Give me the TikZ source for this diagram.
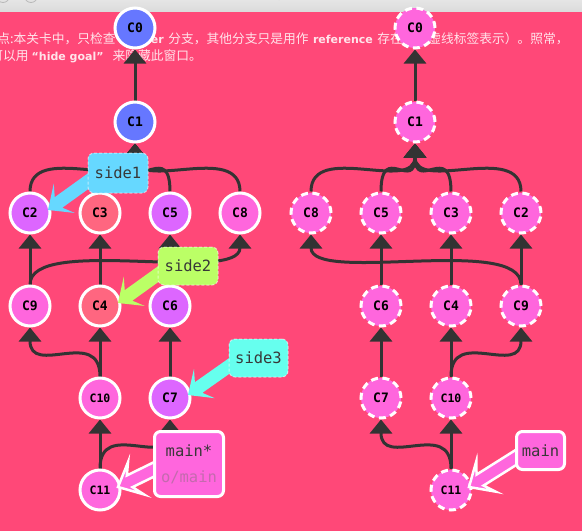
\documentclass[tikz,border=0pt]{standalone}
\usepackage{fontspec}
\usetikzlibrary{arrows.meta,calc}

\newfontfamily\cjkfont{Noto Sans CJK SC}
\newfontfamily\hdrlatin{DejaVu Sans}
\newfontfamily\codefont{DejaVu Sans Mono}

\definecolor{bgpink}{HTML}{FF4878}
\definecolor{linkgray}{HTML}{333333}
\definecolor{cblue}{HTML}{6677FF}
\definecolor{cviolet}{HTML}{DD66FF}
\definecolor{crose}{HTML}{FF6680}
\definecolor{cpink}{HTML}{FF66DD}
\definecolor{tagsky}{HTML}{66D8FF}
\definecolor{taglime}{HTML}{BBFF66}
\definecolor{tagaqua}{HTML}{66FFEE}
\definecolor{mutedtag}{HTML}{C46AAE}
\definecolor{hdrtext}{HTML}{FFE3EA}

\pgfdeclarelayer{backdrop}
\pgfdeclarelayer{links}
\pgfdeclarelayer{pointers}
\pgfdeclarelayer{tags}
\pgfsetlayers{backdrop,links,main,pointers,tags}

% bold Latin words inside the Chinese note
\newcommand\hl[1]{{\hdrlatin\bfseries\fontsize{11}{13}\selectfont #1}}

% parent link: child top -> parent bottom, smooth S-curve
\newcommand\commitlink[2]{\draw[link] (#1.north) .. controls +(0,-50) and +(0,50) .. (#2.south);}

% fat arrow from a branch tag to its commit
\newcommand\tagpointer[3]{%
  \coordinate (#2-tip) at ($(#1.center)+(18,-3)$);
  \coordinate (#2-root) at ($(#2.west)+(12,0)$);
  \coordinate (#2-head) at ($(#2-tip)!20pt!(#2-root)$);
  \coordinate (#2-neck) at ($(#2-tip)!13pt!(#2-root)$);
  \path[#3] (#2-tip)
    -- ($(#2-head)!18pt!90:(#2-root)$)
    -- ($(#2-neck)!6.5pt!90:(#2-root)$)
    -- ($(#2-root)!6.5pt!-90:(#2-tip)$)
    -- ($(#2-root)!6.5pt!90:(#2-tip)$)
    -- ($(#2-neck)!6.5pt!-90:(#2-root)$)
    -- ($(#2-head)!18pt!-90:(#2-root)$)
    -- cycle;}

\begin{document}
\begin{tikzpicture}[x=1pt,y=-1pt,
  commit/.style={circle, minimum size=40pt, inner sep=0pt, line width=3pt,
    draw=white, text=black, font=\codefont\bfseries\fontsize{13}{13}\selectfont},
  small/.style={font=\codefont\bfseries\fontsize{11.5}{11.5}\selectfont},
  goal/.style={commit, fill=cpink, dash pattern=on 7pt off 4.5pt},
  link/.style={draw=linkgray, line width=3pt, -{Triangle[width=22pt,length=14pt]}},
  tagbox/.style={rounded corners=6pt, inner sep=0pt, text=black!78,
    font=\codefont\fontsize{15.5}{18}\selectfont},
  sidetag/.style={tagbox, draw=white, draw opacity=0.55, line width=1pt,
    dash pattern=on 3pt off 2pt},
  maintag/.style={tagbox, draw=white, line width=3pt, fill=cpink},
  sidepointer/.style={fill=#1},
  mainpointer/.style={fill=cpink, draw=white, line width=2.5pt, line join=miter},
  note/.style={anchor=base west, inner sep=0pt, text=hdrtext,
    font=\cjkfont\fontsize{12.75}{15}\selectfont}]

\useasboundingbox (0,0) rectangle (582,531);

% ---- window backdrop, title bar and note ----
\begin{pgfonlayer}{backdrop}
  \fill[bgpink] (0,0) rectangle (582,531);
  \shade[top color=gray!12, bottom color=gray!28] (0,-12) rectangle (582,11);
  \draw[gray!55, fill=gray!22, line width=0.8pt] (3,-4) circle[radius=6.5pt];
  \draw[gray!55, fill=gray!22, line width=0.8pt] (31,-4) circle[radius=6.5pt];
  \node[font=\cjkfont\fontsize{13}{13}\selectfont, text=black!70] (title) at (276,-5) {目标};
  \node[note] (note1) at (-2.75,43)
    {点:本关卡中，只检查\hspace{4.5pt}\hl{master}\hspace{4.5pt}分支，其他分支只是用作\hspace{4.5pt}\hl{reference}\hspace{4.5pt}存在（以虚线标签表示）。照常，};
  \node[note] (note2) at (-9.75,60)
    {可以用\hspace{3pt}\hl{“hide goal”}\hspace{9pt}来隐藏此窗口。};
\end{pgfonlayer}

% ---- current tree ----
\node[commit, fill=cblue]   (L0)  at (135,28)  {C0};
\node[commit, fill=cblue]   (L1)  at (135,122) {C1};
\node[commit, fill=cviolet] (L2)  at (30,213)  {C2};
\node[commit, fill=crose]   (L3)  at (100,213) {C3};
\node[commit, fill=cviolet] (L5)  at (170,213) {C5};
\node[commit, fill=cpink]   (L8)  at (240,213) {C8};
\node[commit, fill=cpink]   (L9)  at (30,306)  {C9};
\node[commit, fill=crose]   (L4)  at (100,306) {C4};
\node[commit, fill=cviolet] (L6)  at (170,306) {C6};
\node[commit, small, fill=cpink] (L10) at (100,398) {C10};
\node[commit, fill=cviolet] (L7)  at (170,398) {C7};
\node[commit, small, fill=cpink] (L11) at (100,490) {C11};

% ---- goal tree ----
\node[goal] (R0)  at (415,28)  {C0};
\node[goal] (R1)  at (415,122) {C1};
\node[goal] (R8)  at (311,213) {C8};
\node[goal] (R5)  at (381,213) {C5};
\node[goal] (R3)  at (451,213) {C3};
\node[goal] (R2)  at (521,213) {C2};
\node[goal] (R6)  at (381,306) {C6};
\node[goal] (R4)  at (451,306) {C4};
\node[goal] (R9)  at (521,306) {C9};
\node[goal] (R7)  at (381,398) {C7};
\node[goal, small] (R10) at (451,398) {C10};
\node[goal, small] (R11) at (451,490) {C11};

% ---- parent links ----
\begin{pgfonlayer}{links}
  \commitlink{L1}{L0}
  \commitlink{L2}{L1}
  \commitlink{L3}{L1}
  \commitlink{L5}{L1}
  \commitlink{L8}{L1}
  \commitlink{L9}{L2}
  \commitlink{L9}{L8}
  \commitlink{L4}{L3}
  \commitlink{L6}{L5}
  \commitlink{L10}{L4}
  \commitlink{L10}{L9}
  \commitlink{L7}{L6}
  \commitlink{L11}{L10}
  \commitlink{L11}{L7}

  \commitlink{R1}{R0}
  \commitlink{R8}{R1}
  \commitlink{R5}{R1}
  \commitlink{R3}{R1}
  \commitlink{R2}{R1}
  \commitlink{R6}{R5}
  \commitlink{R4}{R3}
  \commitlink{R9}{R2}
  \commitlink{R9}{R8}
  \commitlink{R7}{R6}
  \commitlink{R10}{R4}
  \commitlink{R10}{R9}
  \commitlink{R11}{R10}
  \commitlink{R11}{R7}
\end{pgfonlayer}

% ---- branch tags ----
\begin{pgfonlayer}{tags}
  \node[sidetag, fill=tagsky, minimum width=60pt, minimum height=40pt] (side1) at (118,173) {side1};
  \node[sidetag, fill=taglime, minimum width=60pt, minimum height=38pt] (side2) at (188,266) {side2};
  \node[sidetag, fill=tagaqua, minimum width=59pt, minimum height=38pt] (side3) at (258.5,358) {side3};
  \node[maintag, minimum width=69pt, minimum height=65pt, align=center] (mainL) at (189,464)
    {main*\\[8pt]{\color{mutedtag}o/main}};
  \node[maintag, minimum width=48pt, minimum height=38pt] (mainR) at (540.5,450.5) {main};
\end{pgfonlayer}

\begin{pgfonlayer}{pointers}
  \tagpointer{L2}{side1}{sidepointer=tagsky}
  \tagpointer{L4}{side2}{sidepointer=taglime}
  \tagpointer{L7}{side3}{sidepointer=tagaqua}
  \tagpointer{L11}{mainL}{mainpointer}
  \tagpointer{R11}{mainR}{mainpointer}
\end{pgfonlayer}

\end{tikzpicture}
\end{document}
